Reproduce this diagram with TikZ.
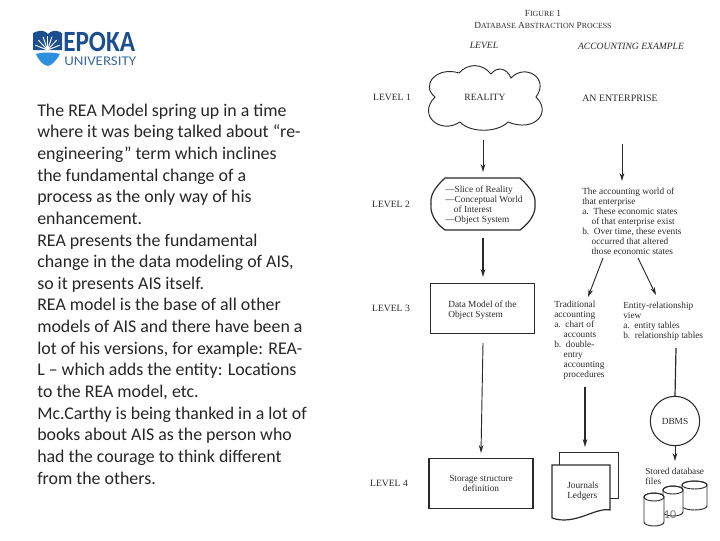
\documentclass[tikz,border=0pt]{standalone}
\usepackage{fontspec}
\setmainfont{Carlito}
\newfontfamily\scanfont{Liberation Serif}
\usetikzlibrary{calc,arrows.meta}
\definecolor{epokadark}{HTML}{1B4F8F}
\definecolor{epokalight}{HTML}{2E8FDC}
\definecolor{scanink}{HTML}{2A2A2A}
\newcommand{\smcap}[1]{{\fontsize{5.9}{7.5}\selectfont #1}}
\tikzset{
  scantext/.style={inner sep=0pt,text=scanink,font=\scanfont\fontsize{7}{7.5}\selectfont},
  listtext/.style={scantext,anchor=north west,align=left},
  leveltext/.style={inner sep=0pt,text=scanink,font=\scanfont\fontsize{7.2}{7.5}\selectfont},
  scanline/.style={draw=scanink,line width=.7pt},
  scanarrow/.style={scanline,-{Stealth[length=6pt,width=3.5pt]}},
  scanbox/.style={scantext,draw=scanink,line width=.9pt,minimum width=78pt,minimum height=38pt,align=center},
}
\begin{document}
\begin{tikzpicture}[x=.75pt,y=-.75pt]
    \useasboundingbox (0,0) rectangle (720,540);
    % logo
    \begin{scope}
      \fill[epokadark] (33,33) .. controls (42,29) and (45,31) .. (48,34)
        .. controls (51,31) and (55,29) .. (62,33) -- (62,50) -- (33,50) -- cycle;
      \foreach \ang in {20,45,70,90,110,135,160}
        \draw[white,line width=.7pt] (47.5,50) -- ++({cos(\ang)*13},{-sin(\ang)*14});
      \fill[epokalight] (36,54) .. controls (42,52) and (53,52) .. (60,54)
        .. controls (56,61) and (52,65) .. (48,66) .. controls (43,65) and (39,61) .. (36,54) -- cycle;
      \node[inner sep=0pt,anchor=base west,text=epokadark,font=\bfseries\fontsize{22}{22}\selectfont] (epoka) at (63,51) {\scalebox{.86}[1]{EPOKA}};
      \node[inner sep=0pt,anchor=base west,text=epokadark!85,font=\fontsize{10}{10}\selectfont] (university) at (64,65.5) {\scalebox{1.12}[1]{UNIVERSITY}};
    \end{scope}
    % text on the left
    \node[inner sep=0pt,anchor=north west,align=left,text=black!85,font=\fontsize{13.4}{16.23}\selectfont] (body) at (37,103.5) {The REA Model spring up in a time\\
      where it was being talked about “re-\\
      engineering” term which inclines\\
      the fundamental change of a\\
      process as the only way of his\\
      enhancement.\\
      REA presents the fundamental\\
      change in the data modeling of AIS,\\
      so it presents AIS itself.\\
      REA model is the base of all other\\
      models of AIS and there have been a\\
      lot of his versions, for example: REA-\\
      L -- which adds the entity: Locations\\
      to the REA model, etc.\\
      Mc.Carthy is being thanked in a lot of\\
      books about AIS as the person who\\
      had the courage to think different\\
      from the others.};
    % headings
    \node[scantext] (figno) at (543,13) {F\smcap{IGURE} 1};
    \node[scantext] (figtitle) at (543,25) {D\smcap{ATABASE} A\smcap{BSTRACTION} P\smcap{ROCESS}};
    \node[leveltext] (levelhead) at (484,45) {\textit{LEVEL}};
    \node[leveltext] (acchead) at (631,46) {\textit{ACCOUNTING EXAMPLE}};
    \node[leveltext] (level1) at (392,97) {LEVEL 1};
    \node[leveltext] (level2) at (391,204) {LEVEL 2};
    \node[leveltext] (level3) at (391,308) {LEVEL 3};
    \node[leveltext] (level4) at (389,483) {LEVEL 4};
    % column of levels
    \draw[scanline] (435,97) .. controls (420,85) and (437,66) .. (459,73)
      .. controls (468,63) and (482,63) .. (491,74)
      .. controls (497,66) and (507,68) .. (511,78)
      .. controls (525,63) and (550,78) .. (536,97)
      .. controls (552,112) and (535,133) .. (508,122)
      .. controls (497,133) and (470,133) .. (460,122)
      .. controls (440,135) and (417,115) .. (435,97) -- cycle;
    \node[leveltext] (reality) at (485,97) {REALITY};
    \draw[scanline,line width=.9pt] (445,178) -- (520,178) .. controls (531,188) and (536,196) .. (535,204)
      .. controls (536,212) and (531,222) .. (520,230) -- (445,230)
      .. controls (434,222) and (430,212) .. (431,204) .. controls (430,196) and (434,188) .. (445,178) -- cycle;
    \node[listtext] (slice) at (445,186) {—Slice of Reality\\—Conceptual World\\\hspace*{6.5pt}of Interest\\—Object System};
    \node[scanbox] (model) at (482.5,308.5) {};
    \node[listtext] (modeltext) at (448,301) {Data Model of the\\Object System};
    \node[scanbox] (storage) at (481,483.5) {Storage structure\\definition};
    \coordinate (a1) at (483,140);
    \coordinate (a2) at (483,172);
    \coordinate (a3) at (483,238);
    \coordinate (a4) at (483,277);
    \coordinate (a5) at (483,343);
    \coordinate (a6) at (481,453);
    \draw[scanarrow] (a1)--(a2);
    \draw[scanarrow,line width=.9pt] (a3)--(a4);
    \draw[scanarrow] (a5)--(a6);
    % column of the accounting example
    \node[scantext,font=\scanfont\fontsize{7.4}{8}\selectfont] (enterprise) at (620,98) {AN ENTERPRISE};
    \node[listtext] (world) at (582,188) {The accounting world of\\that enterprise\\a.\ \ These economic states\\\ \ \ \ of that enterprise exist\\b.\ \ Over time, these events\\\ \ \ \ occurred that altered\\\ \ \ \ those economic states};
    \node[listtext] (tradition) at (554,301) {Traditional\\accounting\\a.\ \ chart of\\\ \ \ \ accounts\\b.\ \ double-\\\ \ \ \ entry\\\ \ \ \ accounting\\\ \ \ \ procedures};
    \node[listtext] (entity) at (623,302) {Entity-relationship\\view\\a.\ \ entity tables\\b.\ \ relationship tables};
    \coordinate (b1) at (622,144);
    \coordinate (b2) at (622,181);
    \coordinate (b3) at (603,258);
    \coordinate (b4) at (588,297);
    \coordinate (b5) at (638,258);
    \coordinate (b6) at (656,295);
    \coordinate (b7) at (585,387);
    \coordinate (b8) at (585,447);
    \coordinate (b9) at (676,348);
    \draw[scanarrow] (b1)--(b2);
    \draw[scanarrow] (b3)--(b4);
    \draw[scanarrow] (b5)--(b6);
    \draw[scanarrow,line width=.9pt] (b7)--(b8);
    \node[scantext,draw=scanink,line width=.8pt,circle,minimum size=37pt] (dbms) at (675,421) {DBMS};
    \draw[scanline,line width=.9pt] (b9)--(dbms.north);
    \coordinate (b10) at (675,461);
    \draw[scanarrow] (dbms.south)--(b10);
    % journals
    \draw[scanline,fill=white] (559,452) -- (618,452) -- (618,498) -- (559,498) -- cycle;
    \draw[scanline,line width=.9pt,fill=white] (552,465) -- (610,465) -- (610,510)
      .. controls (595,507) and (575,526) .. (552,518) -- cycle;
    \node[listtext] (journals) at (567,482) {Journals\\Ledgers};
    % stored files
    \node[listtext] (stored) at (645,468) {Stored database\\files};
    \foreach \cx/\cy/\cw/\ch in {694.5/485/12.5/21,673/490/10/22,654/497/10/25}{
      \draw[scanline,fill=white] (\cx-\cw,\cy) -- (\cx-\cw,\cy+\ch) arc[start angle=180,end angle=0,x radius=\cw,y radius=4]
        -- (\cx+\cw,\cy) arc[start angle=0,end angle=-180,x radius=\cw,y radius=4] -- cycle;
      \draw[scanline] (\cx,\cy) ellipse[x radius=\cw,y radius=4];
    }
    \node[inner sep=0pt,text=black!55,font=\fontsize{9}{9}\selectfont] (pageno) at (670,515) {10};
  \end{tikzpicture}
\end{document}
